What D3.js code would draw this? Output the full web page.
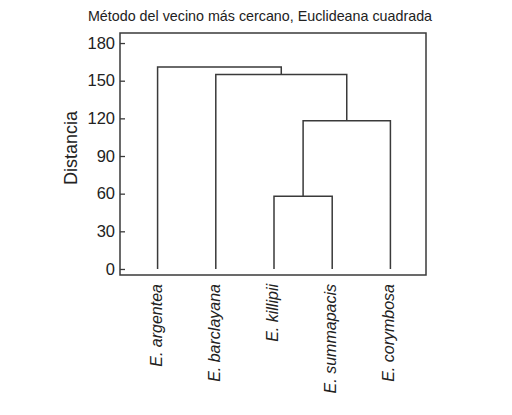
<!DOCTYPE html>
<html>
<head>
<meta charset="utf-8">
<script src="https://cdn.jsdelivr.net/npm/d3@7"></script>
<style>
  body { margin: 0; background: #fff; }
  text { font-family: "Liberation Sans", Arial, sans-serif; fill: #222; }
</style>
</head>
<body>
<div id="chart"></div>
<script>
// leaf order along the x axis
const species = ["E. argentea", "E. barclayana", "E. killipii", "E. summapacis", "E. corymbosa"];
// merge steps: cluster Ck is made of mergeA[k-1] + mergeB[k-1] at mergeDist[k-1]
const mergeA = ["E. killipii", "C1", "E. barclayana", "E. argentea"];
const mergeB = ["E. summapacis", "E. corymbosa", "C2", "C3"];
const mergeDist = [58, 118, 155, 161];
const yTicks = [0, 30, 60, 90, 120, 150, 180];

const title = "Método del vecino más cercano, Euclideana cuadrada";
const yLabel = "Distancia";

const W = 512, H = 415;
const box = { left: 120, right: 426, top: 33, bottom: 275 };

const svg = d3.select("#chart").append("svg")
    .attr("width", W)
    .attr("height", H);

const x = d3.scalePoint().domain(species).range([box.left + 1.5, box.right + 0.5]).padding(0.62);
const y = d3.scaleLinear().domain([-4.8, 188]).range([box.bottom, box.top]);

// node positions
let nodes = {};
species.forEach(s => { nodes[s] = { x: x(s), h: 0 }; });
mergeDist.forEach((d, i) => {
    let a = nodes[mergeA[i]], b = nodes[mergeB[i]];
    nodes["C" + (i + 1)] = { x: (a.x + b.x) / 2, h: d };
});

const lineColor = "#3a3a3a";
const links = svg.append("g")
    .attr("fill", "none")
    .attr("stroke", lineColor)
    .attr("stroke-width", 1.5);

mergeDist.forEach((d, i) => {
    let a = nodes[mergeA[i]], b = nodes[mergeB[i]];
    let path = d3.path();
    path.moveTo(a.x, y(a.h));
    path.lineTo(a.x, y(d));
    path.lineTo(b.x, y(d));
    path.lineTo(b.x, y(b.h));
    links.append("path").attr("d", path.toString());
});

// frame
svg.append("rect")
    .attr("x", box.left)
    .attr("y", box.top)
    .attr("width", box.right - box.left)
    .attr("height", box.bottom - box.top)
    .attr("fill", "none")
    .attr("stroke", lineColor)
    .attr("stroke-width", 1.5);

// y axis, ticks pointing inward
const yAxis = svg.append("g")
    .attr("transform", "translate(" + box.left + ",0)")
    .call(d3.axisLeft(y).tickValues(yTicks).tickSize(-5).tickPadding(5));
yAxis.select(".domain").remove();
yAxis.selectAll(".tick line").attr("stroke", lineColor).attr("stroke-width", 1.3);
yAxis.selectAll(".tick text")
    .style("font-family", "'Liberation Sans', Arial, sans-serif")
    .style("font-size", "16.5px")
    .attr("fill", "#222");

// species labels, rotated
svg.append("g").selectAll("text")
    .data(species)
    .enter().append("text")
    .attr("transform", d => "translate(" + x(d) + ",284) rotate(-90)")
    .attr("text-anchor", "end")
    .attr("dy", "0.25em")
    .style("font-size", "16px")
    .style("font-style", "italic")
    .text(d => d);

svg.append("text")
    .attr("transform", "translate(77,148) rotate(-90)")
    .attr("text-anchor", "middle")
    .style("font-size", "18px")
    .text(yLabel);

svg.append("text")
    .attr("x", 260)
    .attr("y", 21)
    .attr("text-anchor", "middle")
    .style("font-size", "14.3px")
    .text(title);
</script>
</body>
</html>
